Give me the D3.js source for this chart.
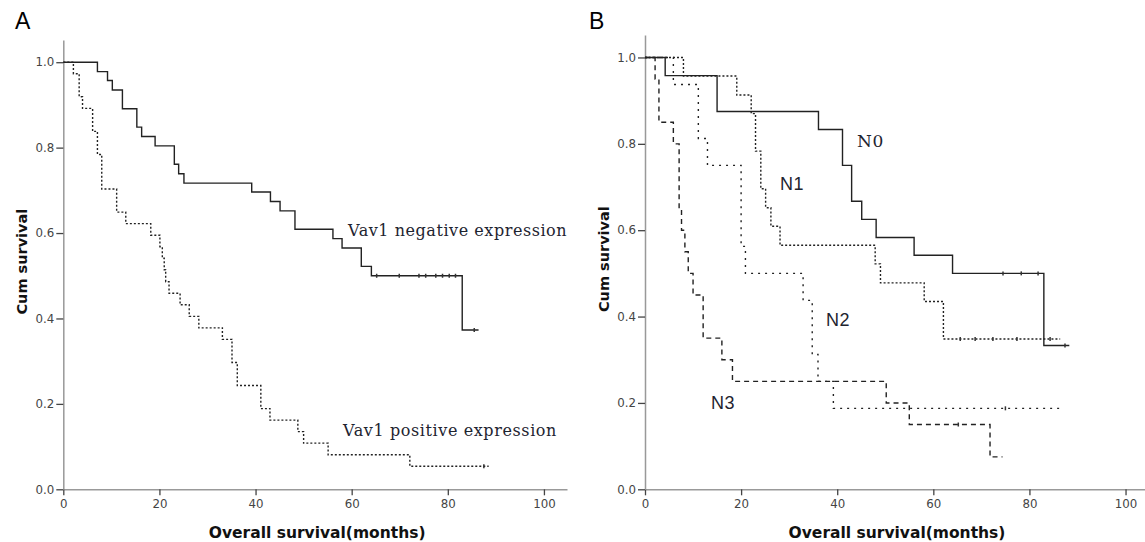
<html>
<head>
<meta charset="utf-8">
<script src="https://d3js.org/d3.v7.min.js"></script>
<style>
body { margin: 0; background: #fff; }
svg { display: block; }
.axis .domain { stroke: #999; stroke-width: 1.5; }
.axis .tick line { stroke: #444; stroke-width: 1.3; }
.axis .tick text { font-family: "DejaVu Sans", Verdana, sans-serif; font-size: 11.8px; fill: #444; }
.curve { fill: none; stroke: #222; stroke-width: 1.4; }
</style>
</head>
<body>
<svg id="chart" width="1145" height="542"></svg>
<script>

// panel A : Vav1 expression
var negTimes = [0, 7.1, 9.2, 10.2, 12.3, 15.3, 16.3, 19.1, 23.1, 24.0, 25.1, 39.2, 43.1, 45.1, 48.2, 56.1, 58.0, 62.0, 64.1, 83.0, 86.4];
var negSurv  = [1, 0.978, 0.957, 0.935, 0.891, 0.848, 0.826, 0.804, 0.761, 0.739, 0.717, 0.696, 0.674, 0.652, 0.609, 0.587, 0.565, 0.522, 0.500, 0.373, 0.373];
var negCensor = [65.2, 69.9, 74.0, 75.4, 77.5, 78.9, 80.3, 81.6, 85.5];

var posTimes = [0, 2.1, 3.3, 4.0, 6.1, 7.1, 8.0, 11.1, 13.0, 18.2, 20.1, 20.6, 21.0, 21.3, 22.0, 24.3, 26.2, 28.2, 33.1, 35.1, 36.2, 41.1, 43.0, 48.8, 50.0, 55.1, 72.1, 88.5];
var posSurv  = [1, 0.973, 0.919, 0.892, 0.838, 0.784, 0.703, 0.649, 0.622, 0.595, 0.568, 0.541, 0.514, 0.486, 0.459, 0.432, 0.405, 0.378, 0.351, 0.297, 0.243, 0.189, 0.162, 0.135, 0.108, 0.081, 0.054, 0.054];
var posCensor = [87.5];

// panel B : N stage
var n0Times = [0, 4.2, 15.0, 36.1, 41.1, 43.0, 45.1, 48.1, 56.0, 64.0, 83.0, 88.3];
var n0Surv  = [1, 0.958, 0.875, 0.833, 0.750, 0.667, 0.625, 0.583, 0.542, 0.500, 0.333, 0.333];
var n0Censor = [74.5, 78.3, 81.8, 87.4];

var n1Times = [0, 8.0, 19.1, 22.1, 23.0, 24.1, 25.1, 26.2, 28.1, 47.9, 49.0, 58.1, 62.1, 86.4];
var n1Surv  = [1, 0.957, 0.913, 0.870, 0.783, 0.696, 0.652, 0.609, 0.565, 0.522, 0.478, 0.435, 0.348, 0.348];
var n1Censor = [65.6, 68.7, 72.4, 77.4, 84.3];

var n2Times = [0, 5.9, 11.1, 13.0, 20.0, 20.9, 32.9, 34.8, 36.0, 39.2, 86.4];
var n2Surv  = [1, 0.9375, 0.8125, 0.75, 0.5625, 0.5, 0.4375, 0.3125, 0.25, 0.1875, 0.1875];
var n2Censor = [75.0];

var n3Times = [0, 2.1, 2.9, 5.9, 7.1, 7.6, 8.3, 9.0, 10.0, 12.1, 16.0, 18.2, 50.2, 55.0, 71.8, 74.4];
var n3Surv  = [1, 0.95, 0.85, 0.80, 0.65, 0.60, 0.55, 0.50, 0.45, 0.35, 0.30, 0.25, 0.20, 0.15, 0.075, 0.075];
var n3Censor = [65.2];

var xTicks = [0, 20, 40, 60, 80, 100];
var yTicks = [0, 0.2, 0.4, 0.6, 0.8, 1.0];

var svg = d3.select("#chart");

function survAt(times, surv, t) {
	var s = surv[0];
	for (var i = 0; i < times.length; i++) {
		if (times[i] <= t) s = surv[i];
	}
	return s;
}

function makePanel(xRange, xMax, yRange, letter, letterX) {
	var x = d3.scaleLinear().domain([0, xMax]).range(xRange);
	var y = d3.scaleLinear().domain([0, 1.052]).range(yRange);

	svg.append("g").attr("class", "axis")
		.attr("transform", "translate(0," + yRange[0] + ")")
		.call(d3.axisBottom(x).tickValues(xTicks).tickFormat(d3.format("d")).tickSize(6).tickSizeOuter(0).tickPadding(4));

	svg.append("g").attr("class", "axis")
		.attr("transform", "translate(" + xRange[0] + ",0)")
		.call(d3.axisLeft(y).tickValues(yTicks).tickFormat(d3.format(".1f")).tickSize(7).tickSizeOuter(0).tickPadding(2));

	svg.append("text")
		.attr("x", letterX).attr("y", 29)
		.style("font-family", "Liberation Sans, Arial, sans-serif")
		.style("font-size", "23px")
		.text(letter);

	var cy = (yRange[0] + yRange[1]) / 2;
	svg.append("text")
		.attr("transform", "translate(" + (xRange[0] - 36) + "," + (cy - 3) + ") rotate(-90)")
		.attr("text-anchor", "middle")
		.style("font-family", "DejaVu Sans, Verdana, sans-serif")
		.style("font-weight", "bold")
		.style("font-size", "14.5px")
		.style("fill", "#111")
		.text("Cum survival");

	svg.append("text")
		.attr("x", (xRange[0] + xRange[1]) / 2 + 2).attr("y", 538)
		.attr("text-anchor", "middle")
		.style("font-family", "DejaVu Sans, Verdana, sans-serif")
		.style("font-weight", "bold")
		.style("font-size", "15.5px")
		.style("fill", "#111")
		.text("Overall survival(months)");

	return { x: x, y: y };
}

function drawCurve(p, times, surv, censor, dash) {
	var line = d3.line()
		.x(function (d) { return p.x(d[0]); })
		.y(function (d) { return p.y(d[1]); })
		.curve(d3.curveStepAfter);
	var pts = times.map(function (t, i) { return [t, surv[i]]; });
	var path = svg.append("path").attr("class", "curve").attr("d", line(pts));
	if (dash) path.style("stroke-dasharray", dash);

	svg.selectAll(null).data(censor).enter().append("line")
		.attr("x1", function (t) { return p.x(t); })
		.attr("x2", function (t) { return p.x(t); })
		.attr("y1", function (t) { return p.y(survAt(times, surv, t)) - 2; })
		.attr("y2", function (t) { return p.y(survAt(times, surv, t)) + 2; })
		.style("stroke", "#333").style("stroke-width", 1.5);
}

function label(px, py, txt, serif, size, spacing) {
	svg.append("text")
		.attr("x", px).attr("y", py)
		.style("font-family", serif ? "DejaVu Serif, serif" : "Liberation Sans, Arial, sans-serif")
		.style("font-size", size + "px")
		.style("letter-spacing", (spacing || 0) + "px")
		.style("fill", "#1e2430")
		.text(txt);
}

var pA = makePanel([63.3, 567], 104.8, [489.3, 40], "A", 15);
drawCurve(pA, negTimes, negSurv, negCensor, null);
drawCurve(pA, posTimes, posSurv, posCensor, "2,2");
label(348, 236, "Vav1 negative expression", true, 16, 0.55);
label(343, 436, "Vav1 positive expression", true, 16, 0.6);

var pB = makePanel([645, 1145], 104.05, [489.3, 35], "B", 589);
drawCurve(pB, n0Times, n0Surv, n0Censor, null);
drawCurve(pB, n1Times, n1Surv, n1Censor, "2,2");
drawCurve(pB, n2Times, n2Surv, n2Censor, "2,5");
drawCurve(pB, n3Times, n3Surv, n3Censor, "5,4");
label(857, 147, "N0", true, 17, 0.5);
label(780, 189.5, "N1", false, 18, 0.5);
label(826, 326, "N2", false, 18, 0.5);
label(711, 409, "N3", false, 18, 0.5);

</script>
</body>
</html>
